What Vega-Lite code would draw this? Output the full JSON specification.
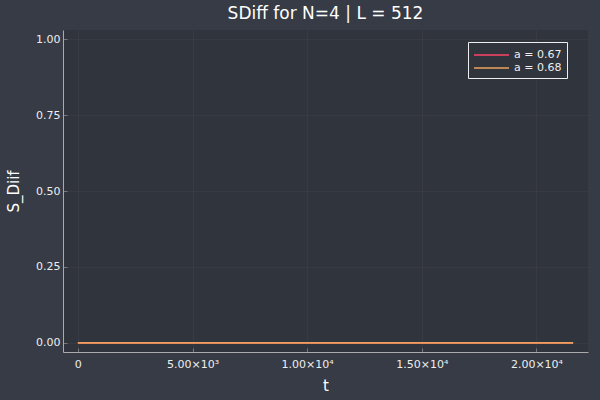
{
  "$schema": "https://vega.github.io/schema/vega-lite/v6.json",
  "autosize": {"type": "none"},
  "padding": {"left": 63, "top": 30, "right": 12, "bottom": 48},
  "width": 525,
  "height": 322,
  "background": "#363b45",
  "title": {
    "text": "SDiff for N=4 | L = 512",
    "font": "DejaVu Sans",
    "fontSize": 17,
    "fontWeight": "normal",
    "color": "#ffffff",
    "anchor": "middle",
    "offset": 7
  },
  "config": {
    "view": {"fill": "#30343c", "stroke": null},
    "font": "DejaVu Sans"
  },
  "data": {
    "values": [
      {"t": 0, "S": 0, "series": "a = 0.67"},
      {"t": 21600, "S": 0, "series": "a = 0.67"},
      {"t": 0, "S": 0, "series": "a = 0.68"},
      {"t": 21600, "S": 0, "series": "a = 0.68"}
    ]
  },
  "mark": {"type": "line", "strokeWidth": 1.6},
  "encoding": {
    "x": {
      "field": "t",
      "type": "quantitative",
      "scale": {"domain": [-648, 22248], "nice": false, "zero": false},
      "axis": {
        "title": "t",
        "titleFont": "DejaVu Sans",
        "titleFontSize": 15,
        "titleFontWeight": "normal",
        "titleColor": "#ffffff",
        "titlePadding": 9,
        "values": [0, 5000, 10000, 15000, 20000],
        "labelExpr": "datum.value == 0 ? '0' : datum.value == 5000 ? '5.00×10³' : datum.value == 10000 ? '1.00×10⁴' : datum.value == 15000 ? '1.50×10⁴' : '2.00×10⁴'",
        "labelFont": "DejaVu Sans",
        "labelFontSize": 11,
        "labelColor": "#eeeeee",
        "labelPadding": 10,
        "domainColor": "#aaaaaa",
        "domainWidth": 1,
        "tickColor": "#777777",
        "tickSize": -4,
        "grid": true,
        "gridColor": "#ffffff",
        "gridOpacity": 0.04
      }
    },
    "y": {
      "field": "S",
      "type": "quantitative",
      "scale": {"domain": [-0.03, 1.03], "nice": false, "zero": false},
      "axis": {
        "title": "S_Diif",
        "titleFont": "DejaVu Sans",
        "titleFontSize": 15,
        "titleFontWeight": "normal",
        "titleColor": "#ffffff",
        "titlePadding": 14,
        "values": [0, 0.25, 0.5, 0.75, 1],
        "format": ".2f",
        "labelFont": "DejaVu Sans",
        "labelFontSize": 11,
        "labelColor": "#eeeeee",
        "labelPadding": 7,
        "domainColor": "#aaaaaa",
        "domainWidth": 1,
        "tickColor": "#777777",
        "tickSize": -4,
        "grid": true,
        "gridColor": "#ffffff",
        "gridOpacity": 0.04
      }
    },
    "color": {
      "field": "series",
      "type": "nominal",
      "scale": {"domain": ["a = 0.67", "a = 0.68"], "range": ["#fe4365", "#eca25c"]},
      "legend": {
        "title": null,
        "orient": "none",
        "legendX": 405,
        "legendY": 12,
        "fillColor": "#30343c",
        "strokeColor": "#eeeeee",
        "padding": 5,
        "symbolType": "M-1,0H4",
        "symbolSize": 196,
        "symbolStrokeWidth": 1.5,
        "labelFont": "DejaVu Sans",
        "labelFontSize": 11,
        "labelColor": "#eeeeee",
        "labelOffset": 25,
        "rowPadding": 0
      }
    }
  }
}
